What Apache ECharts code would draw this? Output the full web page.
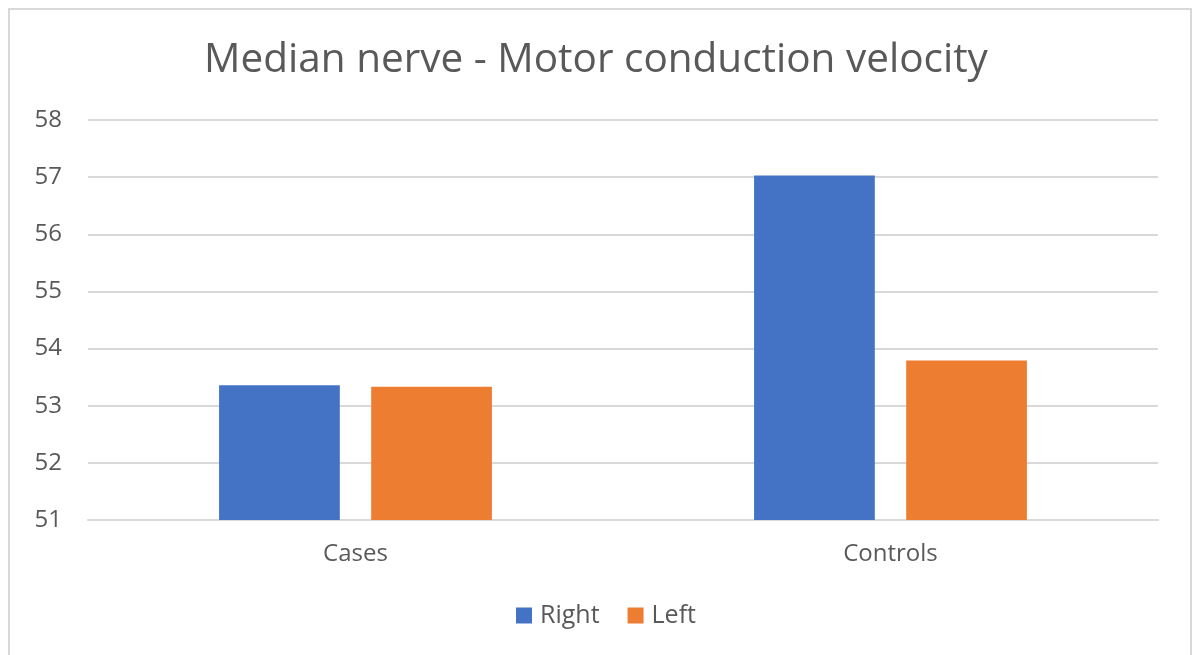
<!DOCTYPE html>
<html>
<head>
<meta charset="utf-8">
<script src="https://cdn.jsdelivr.net/npm/echarts@6/dist/echarts.min.js"></script>
<style>
  html, body { margin: 0; padding: 0; background: #fff; }
  #chart { position: absolute; left: 0; top: 0; width: 1192px; height: 655px; }
  #frame { position: absolute; left: 8px; top: 8px; width: 1180px; height: 660px;
           border: 2px solid #d9d9d9; pointer-events: none; }
</style>
</head>
<body>
<div id="chart"></div>
<div id="frame"></div>
<script>
// data
var categories = ["Cases", "Controls"];
var rightValues = [53.36, 57.03];
var leftValues = [53.33, 53.79];
var yTicks = { min: 51, max: 58, interval: 1 };

var textColor = "#595959";
var font = "'Open Sans', 'Liberation Sans', sans-serif";

var dom = echarts.init(document.getElementById("chart"));
var option = {
  animation: false,
  title: {
    text: "Median nerve - Motor conduction velocity",
    left: "center",
    top: 35,
    textStyle: { color: textColor, fontFamily: font, fontSize: 40.5, fontWeight: "normal" }
  },
  legend: {
    top: 598,
    left: 511,
    itemWidth: 16,
    itemHeight: 16,
    itemGap: 28,
    icon: "rect",
    textStyle: { color: textColor, fontFamily: font, fontSize: 25, padding: [0, 0, 0, 3] },
    data: ["Right", "Left"]
  },
  grid: { left: 88, right: 34, top: 120, bottom: 135 },
  xAxis: {
    type: "category",
    data: categories,
    axisTick: { show: false },
    axisLine: { lineStyle: { color: "#d9d9d9", width: 2 } },
    axisLabel: { color: textColor, fontFamily: font, fontSize: 24, margin: 22 }
  },
  yAxis: {
    type: "value",
    min: yTicks.min,
    max: yTicks.max,
    interval: yTicks.interval,
    axisLine: { show: false },
    axisTick: { show: false },
    splitLine: { lineStyle: { color: "#d9d9d9", width: 2 } },
    axisLabel: { color: textColor, fontFamily: font, fontSize: 24, margin: 26 }
  },
  series: [
    {
      name: "Right",
      type: "bar",
      data: rightValues,
      barGap: "26%",
      barCategoryGap: "49%",
      itemStyle: { color: "#4472C4" }
    },
    {
      name: "Left",
      type: "bar",
      data: leftValues,
      barGap: "26%",
      barCategoryGap: "49%",
      itemStyle: { color: "#ED7D31" }
    }
  ]
};
dom.setOption(option, true);
</script>
</body>
</html>
